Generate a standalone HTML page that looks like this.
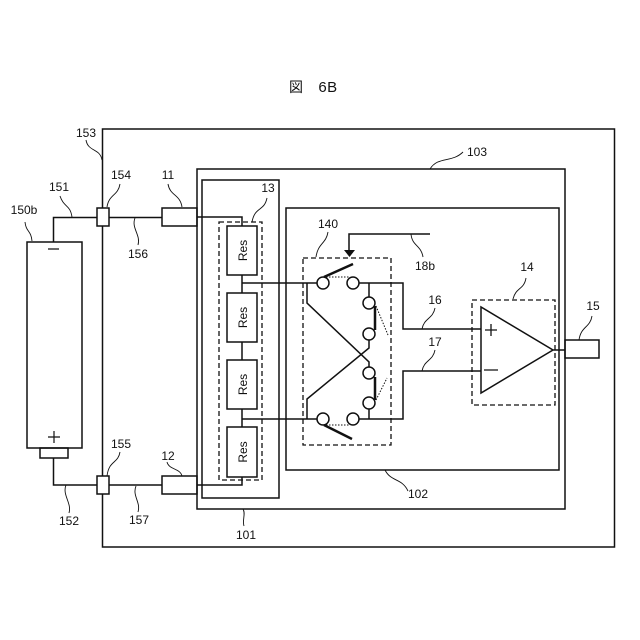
<!DOCTYPE html>
<html>
<head>
<meta charset="utf-8">
<style>
html,body{margin:0;padding:0;background:#fff;width:640px;height:640px;overflow:hidden}
svg{display:block}
text{font-family:"Liberation Sans","Noto Sans CJK JP",sans-serif;font-size:12px;fill:#111;text-anchor:middle}
</style>
</head>
<body>
<svg width="640" height="640" viewBox="0 0 640 640" xmlns="http://www.w3.org/2000/svg">
<rect width="640" height="640" fill="#fff"/>
<text x="296" y="92" style="font-size:14px">図</text>
<text x="328" y="92" style="font-size:15px;letter-spacing:0.500px">6B</text>

<g fill="none" stroke="#111" stroke-width="1.5">
  <rect x="102.500" y="129" width="512" height="418"/>
  <rect x="197" y="169" width="368" height="340"/>
  <rect x="202" y="180" width="77" height="318"/>
  <rect x="286" y="208" width="273" height="262"/>
  <rect x="227" y="226" width="30" height="49"/>
  <rect x="227" y="293" width="30" height="49"/>
  <rect x="227" y="360" width="30" height="49"/>
  <rect x="227" y="427" width="30" height="50"/>
  <rect x="27" y="242" width="55" height="206" fill="#fff"/>
  <rect x="40" y="448" width="28" height="10"/>
  <rect x="97" y="208" width="12" height="18" fill="#fff"/>
  <rect x="97" y="476" width="12" height="18" fill="#fff"/>
  <rect x="162" y="208" width="35" height="18"/>
  <rect x="162" y="476" width="35" height="18"/>
  <rect x="565" y="340" width="34" height="18"/>
  <path d="M53.500 242V217.500H97M109 217.500H162M197 217H242V226"/>
  <path d="M53.500 458V485H97M109 485H162M197 485H242V477"/>
  <path d="M242 275V293M242 342V360M242 409V427"/>
  <path d="M242 283H317M242 419H317"/>
  <path d="M359 283H403V329H481M359 419H403V371H481"/>
  <path d="M369 283V297M369 409V419"/>
  <path d="M307 283V303L369 362V367"/>
  <path d="M307 419V399L369 348V340"/>
  <path d="M481 307V393L553 350ZM553 350H565"/>
  <path d="M349 250V234H430"/>
  <path d="M485 330H497M491 324V336M484 370H498" stroke-width="1.300"/>
  <path d="M48 249H59M48 437H60M54 431V443" stroke-width="1.200"/>
</g>

<g fill="#fff" stroke="#111" stroke-width="1.500">
  <circle cx="323" cy="283" r="6"/>
  <circle cx="353" cy="283" r="6"/>
  <circle cx="369" cy="303" r="6"/>
  <circle cx="369" cy="334" r="6"/>
  <circle cx="369" cy="373" r="6"/>
  <circle cx="369" cy="403" r="6"/>
  <circle cx="323" cy="419" r="6"/>
  <circle cx="353" cy="419" r="6"/>
</g>

<path d="M344 250H355L349.500 257Z" fill="#111"/>
<g fill="none" stroke="#111" stroke-width="2.500">
  <path d="M324 277L353 264M324 425L352 439M375 306V330M375 377V400"/>
</g>
<g fill="none" stroke="#111" stroke-width="1" stroke-dasharray="1.500 1.500">
  <path d="M326 277H350M326 425H350M376 306L388 335M376 400L387 378"/>
</g>
<g fill="none" stroke="#111" stroke-width="1.300" stroke-dasharray="5 3">
  <rect x="219" y="222" width="43" height="258"/>
  <rect x="303" y="258" width="88" height="187"/>
  <rect x="472" y="300" width="83" height="105"/>
</g>

<g fill="none" stroke="#111" stroke-width="0.900">
  <path d="M86 140C88 152 100 148 102 160"/>
  <path d="M60 196C64 208 70 204 72 217"/>
  <path d="M25 222C26 232 31 230 32 241"/>
  <path d="M120 184C118 196 109 194 107 207"/>
  <path d="M135 218C131 228 141 235 138 245"/>
  <path d="M168 184C170 196 180 194 182 207"/>
  <path d="M267 198C264 212 255 206 252 222"/>
  <path d="M328 232C326 244 318 243 316 257"/>
  <path d="M411 234C412 246 421 245 423 257"/>
  <path d="M422 329C424 318 433 319 435 308"/>
  <path d="M422 371C424 360 433 361 435 350"/>
  <path d="M526 278C524 290 516 287 513 299"/>
  <path d="M592 316C590 328 581 326 579 340"/>
  <path d="M430 169C438 156 452 163 463 152"/>
  <path d="M385 470C391 482 402 478 408 491"/>
  <path d="M243 509C246 514 242 520 244 526"/>
  <path d="M167 462C169 470 180 468 182 476"/>
  <path d="M120 452C118 464 109 460 107 476"/>
  <path d="M66 485C62 495 72 503 69 513"/>
  <path d="M136 486C132 496 141 502 138 512"/>
</g>

<text x="86" y="137">153</text>
<text x="59" y="191">151</text>
<text x="24" y="214">150b</text>
<text x="121" y="179">154</text>
<text x="138" y="258">156</text>
<text x="168" y="179">11</text>
<text x="268" y="192">13</text>
<text x="328" y="228">140</text>
<text x="425" y="270">18b</text>
<text x="435" y="304">16</text>
<text x="435" y="346">17</text>
<text x="527" y="271">14</text>
<text x="593" y="310">15</text>
<text x="477" y="156">103</text>
<text x="418" y="498">102</text>
<text x="246" y="539">101</text>
<text x="168" y="460">12</text>
<text x="121" y="448">155</text>
<text x="69" y="525">152</text>
<text x="139" y="524">157</text>

<text transform="translate(247 250.500) rotate(-90)">Res</text>
<text transform="translate(247 317.500) rotate(-90)">Res</text>
<text transform="translate(247 384.500) rotate(-90)">Res</text>
<text transform="translate(247 452) rotate(-90)">Res</text>
</svg>
</body>
</html>
